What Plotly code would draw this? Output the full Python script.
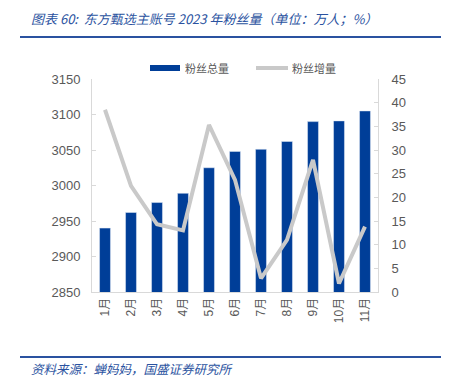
import plotly.graph_objects as go

months = ["1月", "2月", "3月", "4月", "5月", "6月", "7月", "8月", "9月", "10月", "11月"]
total_fans = [2940, 2962, 2976, 2989, 3025, 3048, 3051, 3062, 3090, 3091, 3105]
fan_growth = [38.5, 22.4, 14.3, 13.0, 35.3, 23.7, 2.9, 11.0, 27.9, 1.8, 13.8]

BLUE = "#003e98"
GRAY = "#c9c9c9"
AX = "#d9d9d9"
TXT = "#595959"
TITLE_BLUE = "#2a52a0"
FONT = "Liberation Sans, Noto Sans CJK SC, sans-serif"

L, R, T, B = 92, 71, 79, 85
W, H = 449, 377
PW, PH = W - L - R, H - T - B


def px(x):
    return (x - L) / PW


def py(y):
    return (H - B - y) / PH


fig = go.Figure()
fig.add_trace(go.Bar(x=months, y=total_fans, marker_color=BLUE, width=0.42,
                     showlegend=False, yaxis="y", name="粉丝总量"))
fig.add_trace(go.Scatter(x=months, y=fan_growth, mode="lines",
                         line=dict(color=GRAY, width=4), name="粉丝增量",
                         yaxis="y2", showlegend=False))

fig.update_layout(
    width=W, height=H,
    margin=dict(l=L, r=R, t=T, b=B, autoexpand=False),
    paper_bgcolor="white", plot_bgcolor="white",
    font=dict(family=FONT, size=12, color=TXT),
    showlegend=False,
    xaxis=dict(showline=True, linecolor=AX, linewidth=1, ticks="",
               tickangle=-90, tickfont=dict(size=12, color=TXT),
               showgrid=False, automargin=False),
    yaxis=dict(range=[2850, 3150], dtick=50, showline=True, linecolor=AX,
               ticks="inside", ticklen=4, tickcolor=AX, showgrid=False,
               zeroline=False, tickfont=dict(size=13, color=TXT),
               ticklabelstandoff=8, automargin=False),
    yaxis2=dict(range=[0, 45], dtick=5, overlaying="y", side="right",
                showline=True, linecolor=AX, ticks="inside", ticklen=4,
                tickcolor=AX, showgrid=False, zeroline=False,
                tickfont=dict(size=13, color=TXT), ticklabelstandoff=10,
                automargin=False),
    shapes=[
        dict(type="line", xref="paper", yref="paper", x0=px(20), x1=px(441),
             y0=py(37), y1=py(37), line=dict(color=TITLE_BLUE, width=2)),
        dict(type="line", xref="paper", yref="paper", x0=px(20), x1=px(441),
             y0=py(357), y1=py(357), line=dict(color=TITLE_BLUE, width=2)),
        # legend swatches
        dict(type="rect", xref="paper", yref="paper", x0=px(150), x1=px(180),
             y0=py(71), y1=py(65), fillcolor=BLUE, line=dict(width=0)),
        dict(type="line", xref="paper", yref="paper", x0=px(256), x1=px(288),
             y0=py(68), y1=py(68), line=dict(color=GRAY, width=4)),
    ],
    annotations=[
        dict(text="<i>图表 60:  东方甄选主账号 2023 年粉丝量（单位：万人；%）</i>",
             xref="paper", yref="paper", x=px(29), y=py(18),
             xanchor="left", yanchor="middle", showarrow=False,
             font=dict(size=13, color=TITLE_BLUE, family="Noto Sans CJK SC")),
        dict(text="<i>资料来源：蝉妈妈，国盛证券研究所</i>",
             xref="paper", yref="paper", x=px(29), y=py(368),
             xanchor="left", yanchor="middle", showarrow=False,
             font=dict(size=12.5, color=TITLE_BLUE, family="Noto Sans CJK SC")),
        dict(text="粉丝总量", xref="paper", yref="paper", x=px(183), y=py(68),
             xanchor="left", yanchor="middle", showarrow=False,
             font=dict(size=11, color=TXT, family="Noto Sans CJK SC")),
        dict(text="粉丝增量", xref="paper", yref="paper", x=px(290), y=py(68),
             xanchor="left", yanchor="middle", showarrow=False,
             font=dict(size=11, color=TXT, family="Noto Sans CJK SC")),
    ],
)

fig.write_html("out.html", config={"displayModeBar": False},
               post_script="document.body.style.margin='0';document.body.style.overflow='hidden';")
